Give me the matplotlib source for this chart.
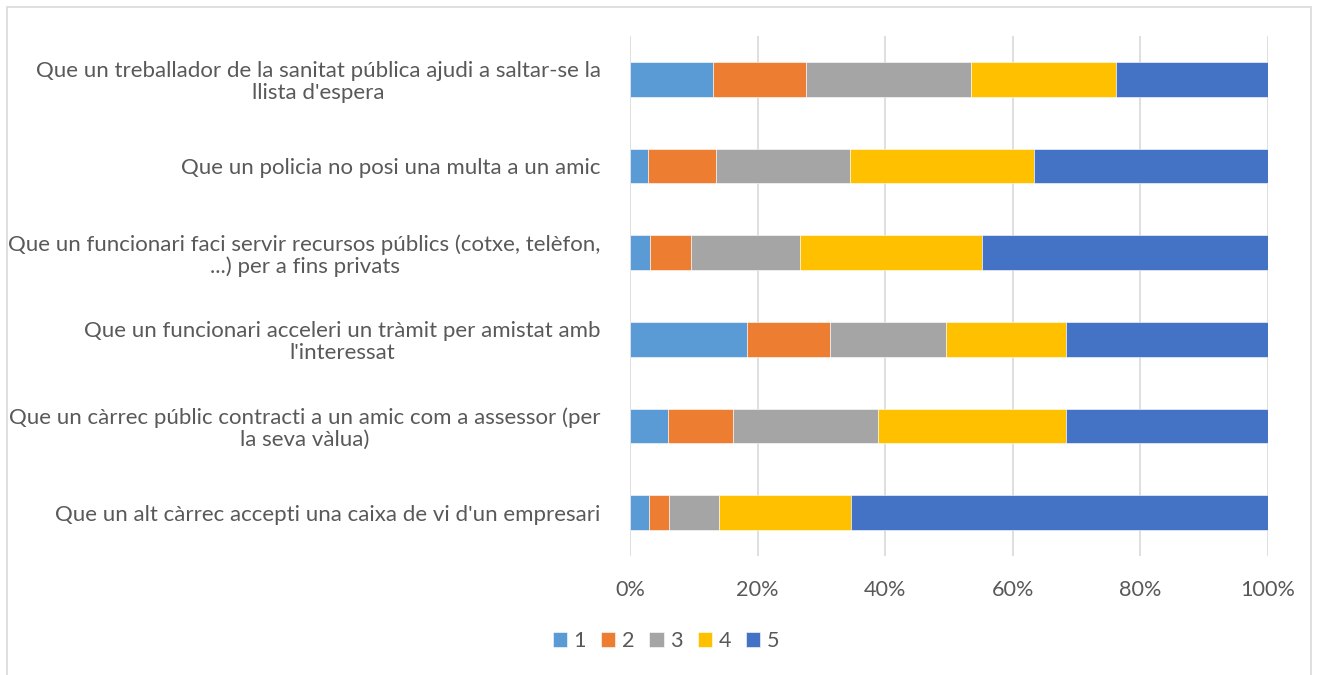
import matplotlib
matplotlib.use("Agg")
import matplotlib.pyplot as plt
from matplotlib.patches import Rectangle
import numpy as np

plt.rcParams['font.family'] = ['Lato', 'DejaVu Sans']

categories = [
    "Que un treballador de la sanitat pública ajudi a saltar-se la\nllista d'espera",
    "Que un policia no posi una multa a un amic",
    "Que un funcionari faci servir recursos públics (cotxe, telèfon,\n...) per a fins privats",
    "Que un funcionari acceleri un tràmit per amistat amb\nl'interessat",
    "Que un càrrec públic contracti a un amic com a assessor (per\nla seva vàlua)",
    "Que un alt càrrec accepti una caixa de vi d'un empresari",
]
series_names = ["1", "2", "3", "4", "5"]
s1 = [13.0, 2.8, 3.2, 18.4, 5.9, 3.0]
s2 = [14.6, 10.7, 6.3, 12.9, 10.2, 3.1]
s3 = [25.8, 21.0, 17.2, 18.2, 22.7, 7.8]
s4 = [22.8, 28.8, 28.4, 18.9, 29.6, 20.8]
s5 = [23.8, 36.7, 44.9, 31.6, 31.6, 65.3]
tick_labels = ["0%", "20%", "40%", "60%", "80%", "100%"]
colors = ["#5B9BD5", "#ED7D31", "#A5A5A5", "#FFC000", "#4472C4"]

W, H = 1317, 675
fig = plt.figure(figsize=(W / 100, H / 100), dpi=100)
ax = fig.add_axes([630 / W, 1 - 556 / H, (1268 - 630) / W, (556 - 36) / H])

data = np.array([s1, s2, s3, s4, s5])
data = data / data.sum(axis=0) * 100
y = np.arange(len(categories))
left = np.zeros(len(categories))
for i, name in enumerate(series_names):
    ax.barh(y, data[i], left=left, height=0.4, color=colors[i], label=name,
            edgecolor='white', linewidth=0.4, zorder=3)
    left += data[i]

ax.set_ylim(len(categories) - 0.5, -0.5)
ax.set_xlim(0, 100)
ax.set_xticks(np.arange(0, 101, 20))
ax.set_xticklabels(tick_labels)
ax.set_yticks(y)
ax.set_yticklabels(categories, multialignment='center', linespacing=1.12)
ax.tick_params(axis='both', length=0, labelsize=15.6, labelcolor='#595959')
ax.tick_params(axis='y', labelsize=16)
ax.tick_params(axis='x', pad=17)
ax.tick_params(axis='y', pad=21)
ax.grid(axis='x', color='#D9D9D9', linewidth=1.2, zorder=0)
for sp in ax.spines.values():
    sp.set_visible(False)

leg = fig.legend(loc='center', bbox_to_anchor=(666 / W, 1 - 641 / H), ncol=5,
                 frameon=False, fontsize=15.6, handlelength=0.65, handleheight=0.65,
                 handletextpad=0.3, columnspacing=0.7)
for t in leg.get_texts():
    t.set_color('#595959')

fig.patches.append(Rectangle((7 / W, -0.01), (1311 - 7) / W, 1 - 7 / H + 0.01,
                             transform=fig.transFigure, fill=False,
                             edgecolor='#D9D9D9', linewidth=1.2))

fig.savefig("out.png", dpi=100, facecolor='white')
